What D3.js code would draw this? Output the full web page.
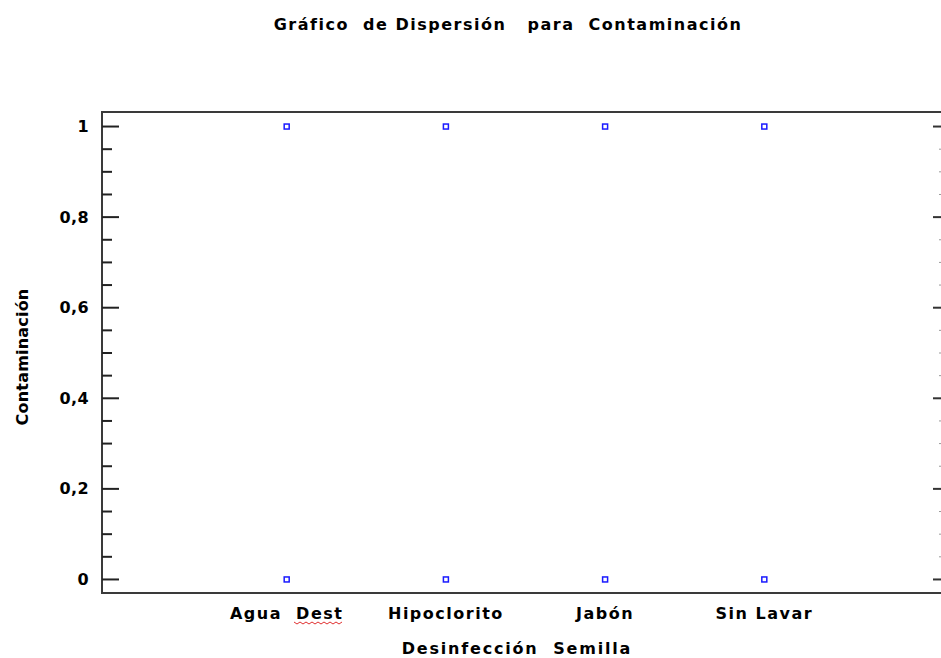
<!DOCTYPE html>
<html>
<head>
<meta charset="utf-8">
<script src="https://cdn.jsdelivr.net/npm/d3@7"></script>
<style>
  html, body { margin: 0; padding: 0; background: #fff; }
  svg { display: block; }
  text { font-family: "DejaVu Sans", "Liberation Sans", sans-serif; font-weight: bold; fill: #000; white-space: pre; }
</style>
</head>
<body>
<script>
// Scatter of contamination (0/1) by seed disinfection treatment
const categories = ["Agua  Dest", "Hipoclorito", "Jabón", "Sin Lavar"];
const xPositions = [1, 2, 3, 4];
// observed contamination values per treatment
const contaminacion = [
  [0, 1],
  [0, 1],
  [0, 1],
  [0, 1]
];
const yTicks = [0, 0.2, 0.4, 0.6, 0.8, 1];
const yTickLabels = ["0", "0,2", "0,4", "0,6", "0,8", "1"];
const yMinorTicks = d3.range(0, 1.0001, 0.05).filter(v => !yTicks.some(t => Math.abs(t - v) < 1e-6));

const W = 941, H = 658;
const plot = { left: 102, top: 112, right: 949, bottom: 593 };

const svg = d3.select("body").append("svg").attr("width", W).attr("height", H);

const x = d3.scaleLinear().domain([-0.16, 5.16]).range([plot.left, plot.right]);
const y = d3.scaleLinear().domain([-0.031, 1.031]).range([plot.bottom, plot.top]);

// Title
svg.append("text")
  .attr("x", 508).attr("y", 30)
  .attr("text-anchor", "middle")
  .style("font-size", "16px").style("letter-spacing", "1.5px")
  .text("Gráfico  de Dispersión   para  Contaminación");

// Frame
svg.append("rect")
  .attr("x", plot.left).attr("y", plot.top)
  .attr("width", plot.right - plot.left).attr("height", plot.bottom - plot.top)
  .attr("fill", "none").attr("stroke", "#3a3a3a").attr("stroke-width", 2);

// Left axis: major ticks with labels
const leftAxis = d3.axisRight(y).tickValues(yTicks).tickSize(17).tickFormat("");
const gl = svg.append("g").attr("transform", `translate(${plot.left},0)`).call(leftAxis);
gl.select(".domain").remove();
gl.selectAll(".tick line").attr("stroke", "#222").attr("stroke-width", 2);

svg.append("g").selectAll("text").data(yTicks).join("text")
  .attr("x", 89).attr("y", d => y(d) + 6)
  .attr("text-anchor", "end")
  .style("font-size", "16px").style("letter-spacing", "0.4px")
  .text((d, i) => yTickLabels[i]);

// Left axis: minor ticks
const leftMinor = d3.axisRight(y).tickValues(yMinorTicks).tickSize(10).tickFormat("");
const glm = svg.append("g").attr("transform", `translate(${plot.left},0)`).call(leftMinor);
glm.select(".domain").remove();
glm.selectAll(".tick line").attr("stroke", "#222").attr("stroke-width", 2);

// Right axis ticks
const rightAxis = d3.axisLeft(y).tickValues(yTicks).tickSize(8).tickFormat("");
const gr = svg.append("g").attr("transform", `translate(941,0)`).call(rightAxis);
gr.select(".domain").remove();
gr.selectAll(".tick line").attr("stroke", "#333").attr("stroke-width", 2);
const rightMinor = d3.axisLeft(y).tickValues(yMinorTicks).tickSize(2).tickFormat("");
const grm = svg.append("g").attr("transform", `translate(941,0)`).call(rightMinor);
grm.select(".domain").remove();
grm.selectAll(".tick line").attr("stroke", "#999").attr("stroke-width", 1);

// Category labels
svg.append("g").selectAll("text").data(categories).join("text")
  .attr("x", (d, i) => x(xPositions[i])).attr("y", 619)
  .attr("text-anchor", "middle")
  .style("font-size", "16px").style("letter-spacing", "1.5px")
  .text(d => d);

// Spell-check squiggle under "Dest"
const sq = [];
for (let i = 0; i <= 16; i++) sq.push([294 + i * 3, 622 + (i % 2 ? 2 : 0)]);
svg.append("path").attr("d", d3.line()(sq))
  .attr("fill", "none").attr("stroke", "#e03030").attr("stroke-width", 1);

// Axis titles
svg.append("text")
  .attr("x", 517).attr("y", 654)
  .attr("text-anchor", "middle")
  .style("font-size", "16px").style("letter-spacing", "1.8px")
  .text("Desinfección  Semilla");

svg.append("text")
  .attr("transform", `translate(28,357) rotate(-90)`)
  .attr("text-anchor", "middle")
  .style("font-size", "16px").style("letter-spacing", "0.2px")
  .text("Contaminación");

// Points
const pts = [];
contaminacion.forEach((vals, i) => vals.forEach(v => pts.push({ x: xPositions[i], v })));
svg.append("g").selectAll("rect").data(pts).join("rect")
  .attr("x", d => x(d.x) - 2.5).attr("y", d => y(d.v) - 2)
  .attr("width", 5).attr("height", 5)
  .attr("fill", "#fff").attr("stroke", "#1a1aff").attr("stroke-width", 1.5);
</script>
</body>
</html>
